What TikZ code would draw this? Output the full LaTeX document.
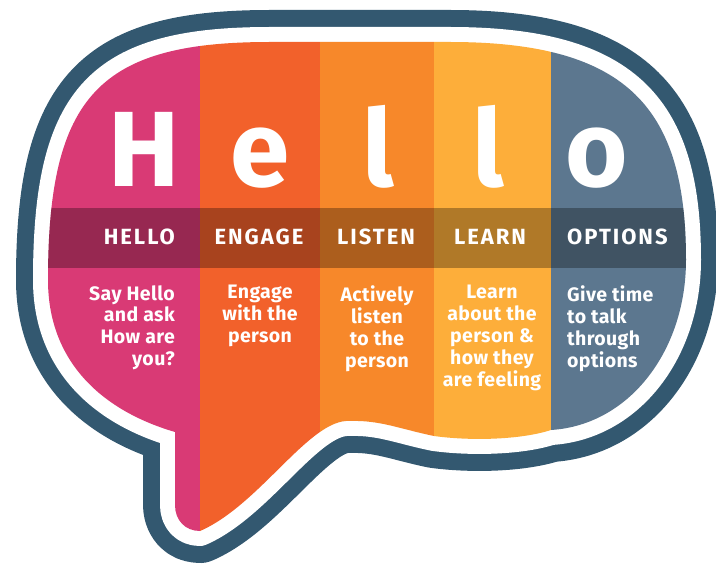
\documentclass[tikz,border=0pt]{standalone}
\usepackage{fontspec}
\setmainfont{Fira Sans}
\usepackage{tikz}
\definecolor{pinkc}{RGB}{217,58,117}
\definecolor{redc}{RGB}{242,97,43}
\definecolor{orangec}{RGB}{247,136,42}
\definecolor{yellowc}{RGB}{253,174,58}
\definecolor{slatec}{RGB}{92,119,143}
\definecolor{rimc}{RGB}{51,88,112}
\def\bub{(200,531) .. controls (185,531) and (175,520) .. (175,505) -- (175,432)
  .. controls (100,410) and (48,360) .. (48,280) .. controls (48,95) and (100,42) .. (270,42)
  -- (450,42) .. controls (630,42) and (686,110) .. (686,260)
  .. controls (686,350) and (630,425) .. (551,430) .. controls (520,440) and (470,441) .. (434,436)
  .. controls (400,429) and (380,420) .. (350,421) .. controls (310,418) and (260,505) .. (200,531) -- cycle}
\begin{document}
\begin{tikzpicture}[x=1pt,y=-1pt,
   letter/.style={white,inner sep=0,anchor=base,font=\fontsize{107}{107}\selectfont\bfseries},
   head/.style={white,inner sep=0,font=\fontsize{22}{22}\selectfont\bfseries\addfontfeatures{LetterSpace=9}},
   blurb/.style={white,inner sep=0,anchor=north,font=\fontsize{19.5}{22}\selectfont\bfseries\addfontfeatures{LetterSpace=2}}]
\useasboundingbox (0,0) rectangle (716,564);
%
\draw[rimc,line width=64pt,line join=round] \bub;
\draw[white,line width=30pt,line join=round] \bub;
\begin{scope}
  \clip \bub;
     \fill[pinkc] (0,0) rectangle (200,564);
       \fill[redc] (200,0) rectangle (320,564);
         \fill[orangec] (320,0) rectangle (434,564);
           \fill[yellowc] (434,0) rectangle (551,564);
             \fill[slatec] (551,0) rectangle (716,564);
  \fill[black,opacity=.3] (0,208) rectangle (716,268);
\end{scope}
%
       \node [letter] at (144,187) (H) {H};
          \node [letter] at (260,187) (e) {e};
             \node [letter] at (378,187) (l one) {l};
                \node [letter] at (488,187) (l two) {l};
                   \node [letter] at (597,187) (o) {o};
%
       \node [head,anchor=base east] at (175,245) (hello) {HELLO};
          \node [head,anchor=base] at (259,245) (engage) {ENGAGE};
             \node [head,anchor=base] at (376,245) (listen) {LISTEN};
                \node [head,anchor=base] at (490,245) (learn) {LEARN};
                   \node [head,anchor=base west] at (567,245) (options) {OPTIONS};
%
       \node [blurb,anchor=north east,align=right] at (175,285) (say) {Say Hello\\and ask\\How are\\you?};
          \node [blurb,align=center] at (260,285) (with) {Engage\\with the\\person};
             \node [blurb,align=center] at (377,285) (act) {Actively\\listen\\to the\\person};
                \node [blurb,align=center] at (492,285) (about) {Learn\\about the\\person \&\\how they\\are feeling};
                   \node [blurb,anchor=north west,align=left] at (567,285) (give) {Give time\\to talk\\through\\options};
%
\end{tikzpicture}
\end{document}
